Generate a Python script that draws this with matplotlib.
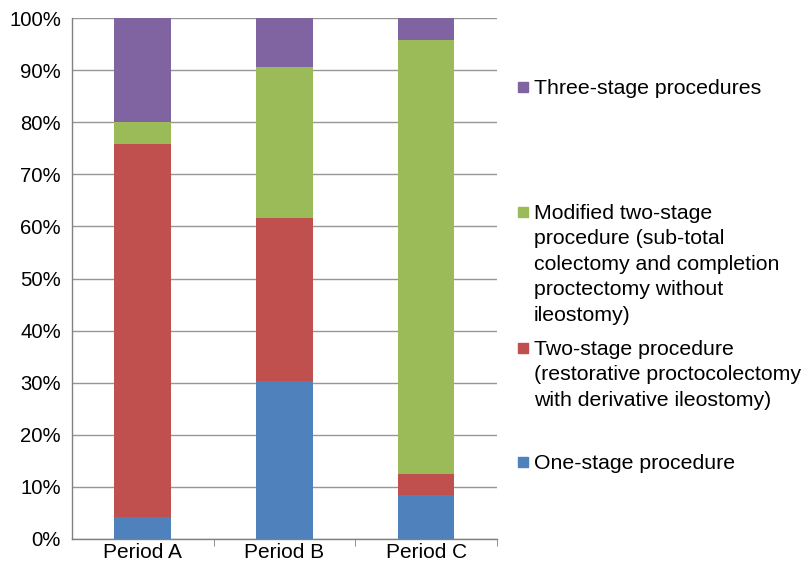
import numpy as np
import matplotlib.pyplot as plt
from matplotlib.patches import Rectangle

plt.rcParams['font.family'] = ['Liberation Sans', 'DejaVu Sans']

periods = ["Period A", "Period B", "Period C"]
one_stage = [4.2, 30.4, 8.4]
two_stage = [71.7, 31.2, 4.1]
modified_two_stage = [4.1, 28.9, 83.3]
three_stage = [20.0, 9.5, 4.2]

series = [
    ("One-stage procedure", one_stage, "#4F81BD"),
    ("Two-stage procedure\n(restorative proctocolectomy\nwith derivative ileostomy)",
     two_stage, "#C0504D"),
    ("Modified two-stage\nprocedure (sub-total\ncolectomy and completion\n"
     "proctectomy without\nileostomy)", modified_two_stage, "#9BBB59"),
    ("Three-stage procedures", three_stage, "#8064A2"),
]

fig = plt.figure(figsize=(8.01, 5.69), dpi=100)
ax = fig.add_axes([72 / 801, 1 - 539 / 569, 425 / 801, 521 / 569])

x = np.arange(len(periods))
bottom = np.zeros(len(periods))
for label, vals, color in series:
    ax.bar(x, vals, width=0.4, bottom=bottom, color=color, zorder=2)
    bottom += np.array(vals)

ax.set_xlim(-0.5, len(periods) - 0.5)
ax.set_ylim(0, 100)
ax.set_yticks(np.arange(0, 101, 10))
ax.set_yticklabels([f"{v}%" for v in range(0, 101, 10)], fontsize=14.6)
ax.yaxis.grid(True, color="#969696", linewidth=1.0, zorder=0)
ax.set_axisbelow(True)

# category labels centred on bars, tick marks between categories
ax.set_xticks(x)
ax.set_xticklabels(periods, fontsize=15)
ax.tick_params(axis="x", length=0, pad=3)
ax.set_xticks(np.arange(0.5, len(periods), 1.0), minor=True)
ax.tick_params(axis="x", which="minor", length=5, color="#808080", direction="out")
ax.tick_params(axis="y", length=0, pad=8)

for side in ["top", "right"]:
    ax.spines[side].set_visible(False)
for side in ["left", "bottom"]:
    ax.spines[side].set_color("#808080")
    ax.spines[side].set_linewidth(1.0)

# legend entries laid out down the right-hand side
legend_rows = [461.7, 347.7, 212.0, 86.7]
for (label, vals, color), ypix in zip(series, legend_rows):
    yf = 1 - ypix / 569
    fig.patches.append(Rectangle((518 / 801, yf - 5 / 569), 10 / 801, 10 / 569,
                                 transform=fig.transFigure, color=color))
    fig.text(534 / 801, yf + 8 / 569, label, fontsize=15.3, va="top", ha="left",
             linespacing=1.43)

fig.savefig("out.png", dpi=100)
